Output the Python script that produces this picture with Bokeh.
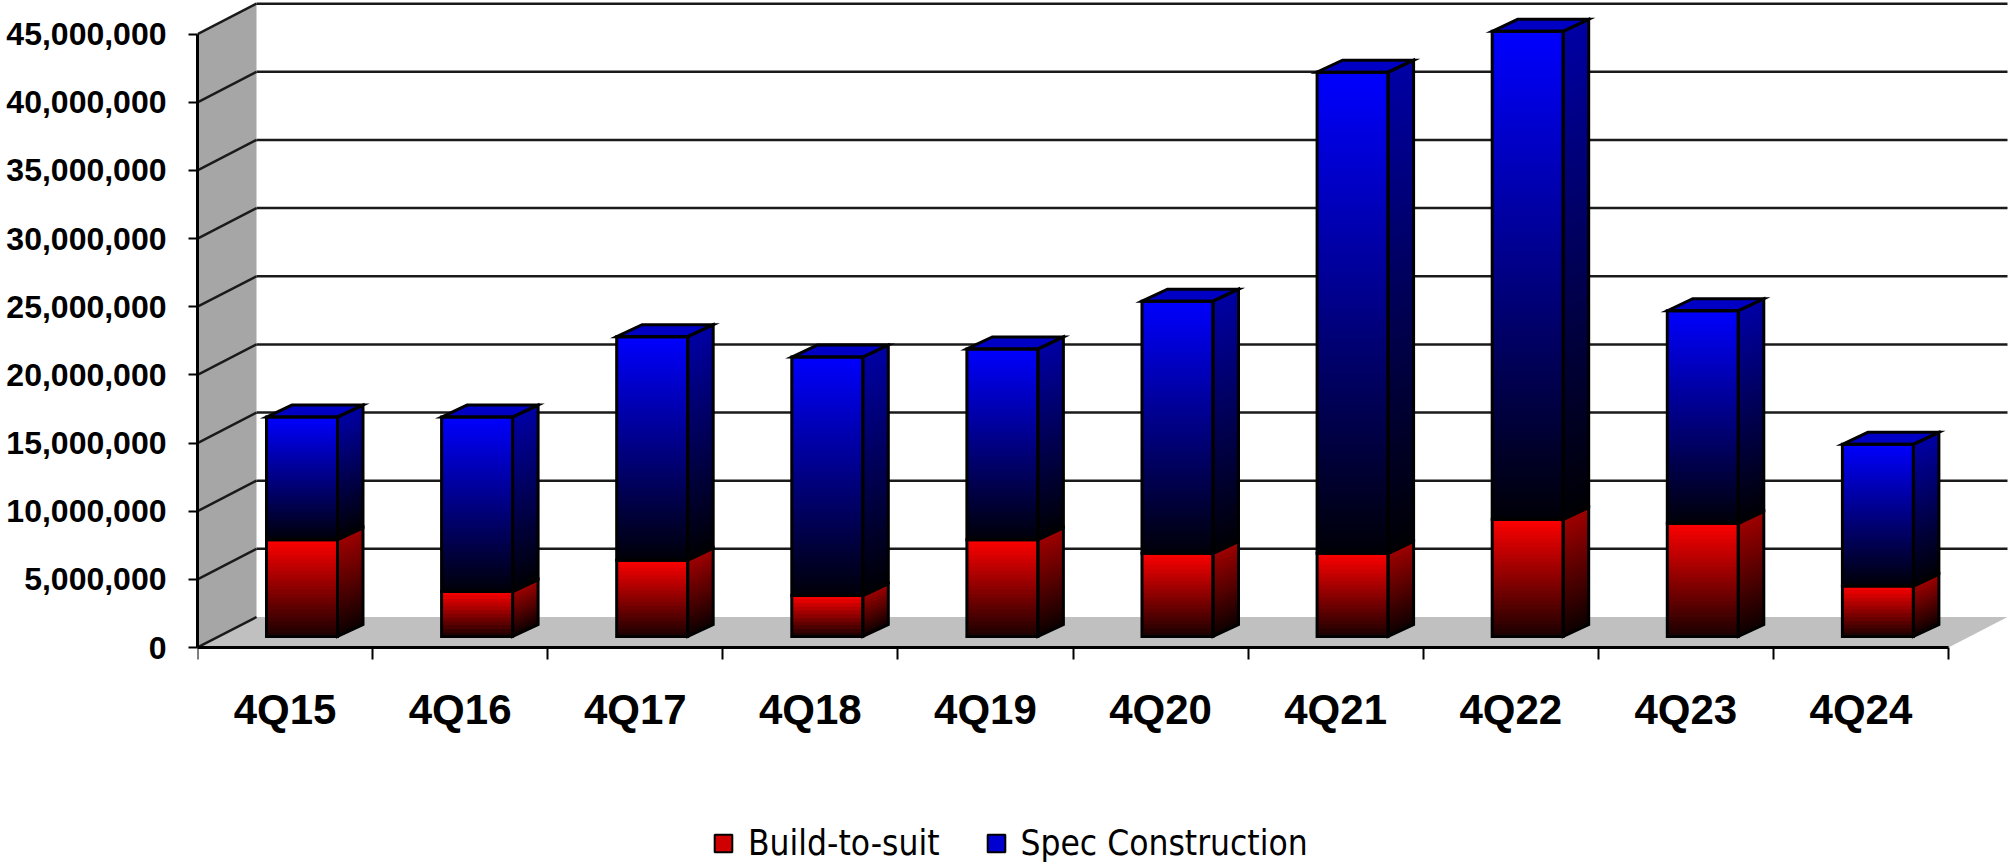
import numpy as np
from bokeh.plotting import figure
from bokeh.models import (Range1d, LinearAxis, FixedTicker, NumeralTickFormatter,
                          Legend, LegendItem)
from bokeh.embed import file_html
from bokeh.resources import INLINE

# ---------------- data ----------------
quarters = ["4Q15", "4Q16", "4Q17", "4Q18", "4Q19", "4Q20", "4Q21", "4Q22", "4Q23", "4Q24"]
build_to_suit = [7_100_000, 3_300_000, 5_600_000, 3_000_000, 7_100_000,
                 6_100_000, 6_100_000, 8_600_000, 8_300_000, 3_700_000]
spec_construction = [9_000_000, 12_800_000, 16_400_000, 17_500_000, 14_000_000,
                     18_500_000, 35_300_000, 35_800_000, 15_600_000, 10_400_000]
y_ticks = [0, 5_000_000, 10_000_000, 15_000_000, 20_000_000, 25_000_000,
           30_000_000, 35_000_000, 40_000_000, 45_000_000]
series_names = ["Build-to-suit", "Spec Construction"]

# ---------------- geometry / style ----------------
W, H = 2009, 867
LEFT = 197
FRAME_W = W - LEFT
PX_PER_CAT = 175.1
PX_PER_VAL = 13.63e-6
ZERO_FROM_TOP = 647

x_start = -0.5
x_end = x_start + FRAME_W / PX_PER_CAT
y_end = ZERO_FROM_TOP / PX_PER_VAL
y_start = -(H - ZERO_FROM_TOP) / PX_PER_VAL

DX = 59 / PX_PER_CAT          # depth of walls / floor
DY = 30.5 / PX_PER_VAL
BAR_L = -0.106                # front face left offset from category centre
BAR_W = 71 / PX_PER_CAT
BDX = 25.5 / PX_PER_CAT       # bar depth
BDY = 12 / PX_PER_VAL
BASE = 11 / PX_PER_VAL        # bar bottom (front) above floor front edge
SLICE_PX = 4.0
OVERLAP = 2.5 / PX_PER_VAL

RED_FRONT = ((25, 0, 0), (255, 0, 0))
RED_SIDE = ((12, 0, 0), (160, 0, 0))
BLUE_FRONT = ((0, 0, 8), (0, 0, 255))
BLUE_SIDE = ((0, 0, 4), (0, 0, 165))
TOP_COLOR = "#0000c4"


def lerp(c0, c1, t):
    return "#%02x%02x%02x" % tuple(int(round(a + (b - a) * t)) for a, b in zip(c0, c1))


p = figure(width=W, height=H,
           x_range=Range1d(x_start, x_end), y_range=Range1d(y_start, y_end),
           output_backend="svg", toolbar_location=None, x_axis_location=None,
           min_border_left=LEFT, min_border_right=0, min_border_top=0, min_border_bottom=0,
           background_fill_color="white", border_fill_color="white")
p.outline_line_color = None
p.grid.visible = False

# ---------------- walls and floor ----------------
n = len(quarters)
x0 = -0.5
x1 = n - 0.5
ymax = y_ticks[-1]
p.patch([x0, x0 + DX, x0 + DX, x0], [0, DY, ymax + DY, ymax],
        fill_color="#a6a6a6", line_color=None)
p.patch([x0, x1, x1 + DX, x0 + DX], [0, 0, DY, DY],
        fill_color="#c0c0c0", line_color=None)

grid_col = "#1a1a1a"
back_vals = [v for v in y_ticks if v > 0]
p.segment(x0=[x0 + DX] * len(back_vals), y0=[v + DY for v in back_vals],
          x1=[x1 + DX] * len(back_vals), y1=[v + DY for v in back_vals],
          line_color=grid_col, line_width=2.5)
p.segment(x0=[x0] * len(y_ticks), y0=list(y_ticks),
          x1=[x0 + DX] * len(y_ticks), y1=[v + DY for v in y_ticks],
          line_color=grid_col, line_width=2.5)

# ---------------- bars ----------------
front = dict(left=[], right=[], bottom=[], top=[], color=[])
side = dict(xs=[], ys=[], color=[])
tops = dict(xs=[], ys=[])
ofront = dict(left=[], right=[], bottom=[], top=[])
oside = dict(xs=[], ys=[])

for i in range(n):
    xl = i + BAR_L
    xr = xl + BAR_W
    b = build_to_suit[i]
    s = spec_construction[i]
    segs = [(BASE, BASE + b, RED_FRONT, RED_SIDE),
            (BASE + b, BASE + b + s, BLUE_FRONT, BLUE_SIDE)]
    for y0, y1, fc, sc in segs:
        nsl = max(6, int(np.ceil((y1 - y0) * PX_PER_VAL / SLICE_PX)))
        edges = np.linspace(y0, y1, nsl + 1)
        for k in range(nsl):
            bb = edges[k]
            tt = min(edges[k + 1] + OVERLAP, y1)
            t = (k + 0.5) / nsl
            front["left"].append(xl)
            front["right"].append(xr)
            front["bottom"].append(bb)
            front["top"].append(tt)
            front["color"].append(lerp(fc[0], fc[1], t))
            side["xs"].append([xr, xr + BDX, xr + BDX, xr])
            side["ys"].append([bb, bb + BDY, tt + BDY, tt])
            side["color"].append(lerp(sc[0], sc[1], t))
        ofront["left"].append(xl)
        ofront["right"].append(xr)
        ofront["bottom"].append(y0)
        ofront["top"].append(y1)
        oside["xs"].append([xr, xr + BDX, xr + BDX, xr])
        oside["ys"].append([y0, y0 + BDY, y1 + BDY, y1])
    T = BASE + b + s
    tops["xs"].append([xl, xl + BDX, xr + BDX, xr])
    tops["ys"].append([T, T + BDY, T + BDY, T])

p.quad(left="left", right="right", bottom="bottom", top="top", fill_color="color",
       line_color=None, source=front)
p.patches(xs="xs", ys="ys", fill_color="color", line_color=None, source=side)
p.patches(xs="xs", ys="ys", fill_color=TOP_COLOR, line_color="black", line_width=3,
          line_join="miter", source=tops)
p.patches(xs="xs", ys="ys", fill_color=None, line_color="black", line_width=3,
          line_join="miter", source=oside)
p.quad(left="left", right="right", bottom="bottom", top="top", fill_color=None,
       line_color="black", line_width=3, line_join="miter", source=ofront)

# ---------------- axes ----------------
yax = p.yaxis[0]
yax.ticker = FixedTicker(ticks=y_ticks)
yax.formatter = NumeralTickFormatter(format="0,0")
yax.bounds = (0, ymax)
yax.axis_line_width = 3
yax.axis_line_color = "black"
yax.major_tick_line_width = 2
yax.major_tick_out = 9
yax.major_tick_in = 0
yax.minor_tick_out = 0
yax.minor_tick_in = 0
yax.major_label_standoff = 22
yax.major_label_text_font = "Liberation Sans"
yax.major_label_text_font_style = "bold"
yax.major_label_text_font_size = "32px"
yax.major_label_text_color = "black"

xax = LinearAxis(
    ticker=FixedTicker(ticks=list(range(n)), minor_ticks=[k - 0.5 for k in range(n + 1)]),
    major_label_overrides={i: q for i, q in enumerate(quarters)},
    fixed_location=0, bounds=(x0, x1),
    axis_line_width=3, axis_line_color="black",
    major_tick_line_color=None, major_tick_out=0, major_tick_in=0,
    minor_tick_line_color="black", minor_tick_line_width=2,
    minor_tick_out=12, minor_tick_in=0,
    major_label_standoff=26,
    major_label_text_font="Liberation Sans", major_label_text_font_style="bold",
    major_label_text_font_size="42px", major_label_text_color="black")
p.add_layout(xax, "below")

# ---------------- legend ----------------
nan = [float("nan")]
r_b = p.quad(left=nan, right=nan, top=nan, bottom=nan, fill_color="#d00000",
             line_color="black", line_width=2)
r_s = p.quad(left=nan, right=nan, top=nan, bottom=nan, fill_color="#0000d0",
             line_color="black", line_width=2)
legend = Legend(items=[LegendItem(label=series_names[0], renderers=[r_b]),
                       LegendItem(label=series_names[1], renderers=[r_s])],
                orientation="horizontal", location=(515, 4),
                glyph_width=22, glyph_height=22, label_standoff=14, spacing=45,
                padding=0, margin=0, border_line_color=None, background_fill_alpha=0,
                label_text_font="DejaVu Sans Condensed", label_text_font_size="35px",
                label_text_color="black")
p.add_layout(legend)

open("out.html", "w").write(file_html(p, INLINE))
